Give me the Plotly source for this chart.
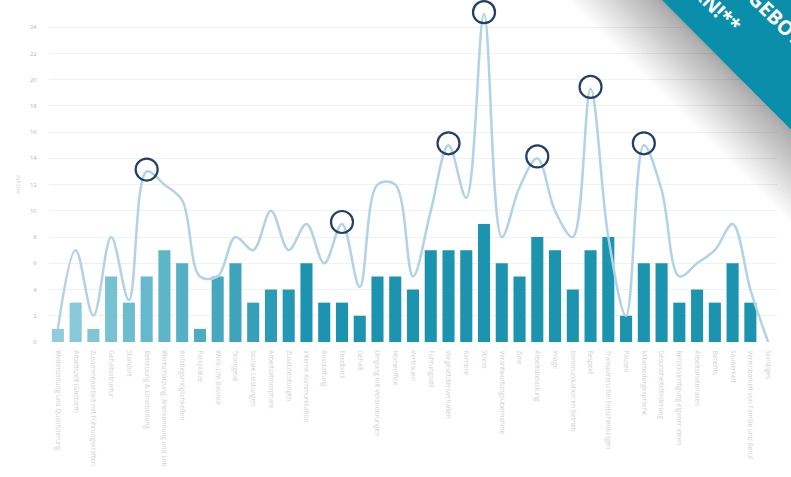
import plotly.graph_objects as go

# ---------------- data ----------------
categories = [
    "Weiterbildung und Qualifizierung", "Arbeitszeit (Gleitzeit)",
    "Zusammenarbeit mit Führungskräften", "Gehaltsstruktur", "Standort",
    "Betreuung & Einarbeitung", "Wertschätzung, Anerkennung und Lob",
    "Aufstiegsmöglichkeiten", "Parkplätze", "Work-Life-Balance", "Teamgeist",
    "Soziale Leistungen", "Arbeitsatmosphäre", "Zusatzleistungen",
    "Interne Kommunikation", "Ausstattung", "Feedback", "Gehalt",
    "Umgang mit Veränderungen", "Homeoffice", "Vertrauen", "Führungsstil",
    "Vorgesetztenverhalten", "Karriere", "Stress", "Verantwortungsübernahme",
    "Ziele", "Arbeitsbelastung", "Image", "Kommunikation im Betrieb",
    "Respekt", "Transparenz bei Entscheidungen", "Pausen",
    "Mitarbeitergespräche", "Gesundheitsförderung",
    "Berücksichtigung eigener Ideen", "Arbeitsmaterialien", "Benefits",
    "Sauberkeit", "Vereinbarkeit von Familie und Beruf", "Sonstiges",
]
bar_values = [1, 3, 1, 5, 3, 5, 7, 6, 1, 5, 6, 3, 4, 4, 6, 3, 3, 2, 5, 5,
              4, 7, 7, 7, 9, 6, 5, 8, 7, 4, 7, 8, 2, 6, 6, 3, 4, 3, 6, 3, 0]
line_values = [1, 7, 2, 8, 3.2, 13, 12, 10.8, 5, 5, 8, 7, 10, 7, 9, 6, 9, 4.2,
               12, 12, 5, 10, 15, 11, 25, 8, 11.8, 14, 10, 8, 19.3, 8, 2, 15,
               11.6, 5, 6, 7, 9, 4, 0]
highlight_idx = [5, 16, 22, 24, 27, 30, 33]
y_ticks = [0, 2, 4, 6, 8, 10, 12, 14, 16, 18, 20, 22, 24]
y_title = "Anzahl"
banner_line1 = "**JETZT ANGEBOT"
banner_line2 = "ANFORDERN!**"

# ---------------- layout helpers ----------------
W, H = 791, 477
L, R, T, B = 49, 777, 1, 342   # plot area in pixels


def px(x):
    return (x - L) / (R - L)


def py(y):
    return (B - y) / (B - T)


def lerp(c1, c2, t):
    return "rgb(%d,%d,%d)" % tuple(round(a + (b - a) * t) for a, b in zip(c1, c2))


n = len(categories)
start_c, end_c = (143, 205, 219), (28, 148, 175)
bar_colors = [lerp(start_c, end_c, min(i / 14.0, 1.0)) for i in range(n)]

fig = go.Figure()
fig.add_trace(go.Bar(
    x=categories, y=bar_values, marker=dict(color=bar_colors, line=dict(width=0)),
    hoverinfo="skip",
))
fig.add_trace(go.Scatter(
    x=categories, y=line_values, mode="lines",
    line=dict(color="#b2d3e5", width=2.5, shape="spline", smoothing=1.0),
    hoverinfo="skip", cliponaxis=False,
))
fig.add_trace(go.Scatter(
    x=[categories[i] for i in highlight_idx],
    y=[line_values[i] + 0.15 for i in highlight_idx],
    mode="markers",
    marker=dict(symbol="circle-open", size=22, color="#233f66",
                line=dict(width=2.2, color="#233f66")),
    hoverinfo="skip", cliponaxis=False,
))

# banner (teal corner) + soft shadow
shapes = []
ex0, ey0, ex1, ey1 = 662, 0, 791, 130
for k in range(1, 26):
    d = (k ** 1.3) * 1.0
    ox, oy = -0.707 * d, 0.707 * d
    pts = [(ex0 - 60, ey0 - 60), (ex1 + 60, ey1 + 60),
           (ex1 + 60 + ox, ey1 + 60 + oy), (ex0 - 60 + ox, ey0 - 60 + oy)]
    path = "M " + " L ".join("%f,%f" % (px(a), py(b)) for a, b in pts) + " Z"
    shapes.append(dict(type="path", xref="paper", yref="paper", path=path,
                       fillcolor="rgba(70,70,70,0.018)", line=dict(width=0),
                       layer="above"))
tri = [(ex0 - 60, ey0 - 60), (ex1 + 60, ey1 + 60), (ex1 + 60, -60)]
shapes.append(dict(type="path", xref="paper", yref="paper",
                   path="M " + " L ".join("%f,%f" % (px(a), py(b)) for a, b in tri) + " Z",
                   fillcolor="#0a8eaa", line=dict(width=0), layer="above"))

annotations = [
    dict(text=banner_line1, xref="paper", yref="paper", x=px(812), y=py(54),
         xanchor="right", yanchor="bottom", textangle=44, showarrow=False,
         font=dict(family="Open Sans", size=20, color="white", weight=700)),
    dict(text=banner_line2, xref="paper", yref="paper", x=px(750), y=py(41),
         xanchor="right", yanchor="bottom", textangle=44, showarrow=False,
         font=dict(family="Open Sans", size=20, color="white", weight=700)),
    dict(text=y_title, xref="paper", yref="paper", x=px(12), y=py(185),
         textangle=-90, showarrow=False,
         font=dict(family="Open Sans", size=6, color="#cfcfcf")),
]

fig.update_layout(
    width=W, height=H, margin=dict(l=L, r=W - R, t=T, b=H - B),
    paper_bgcolor="white", plot_bgcolor="white", showlegend=False,
    bargap=0.32, shapes=shapes, annotations=annotations,
    font=dict(family="Open Sans"),
)
fig.update_xaxes(
    type="category", range=[-0.5, n - 0.5], showgrid=False, zeroline=False,
    showline=False, tickangle=90, ticks="outside", ticklen=6,
    tickcolor="rgba(0,0,0,0)", tickfont=dict(size=6.5, color="#d2d2d2"),
)
fig.update_yaxes(
    range=[0, 26], tickvals=y_ticks, showgrid=True, gridcolor="#f1f1f1",
    gridwidth=1, zeroline=False, showline=False, ticks="outside", ticklen=10,
    tickcolor="rgba(0,0,0,0)", tickfont=dict(size=6, color="#b5b5b5"),
)

fig.write_html("out.html", config={"displayModeBar": False},
               post_script="document.body.style.margin='0';"
                           "document.body.style.padding='0';")
